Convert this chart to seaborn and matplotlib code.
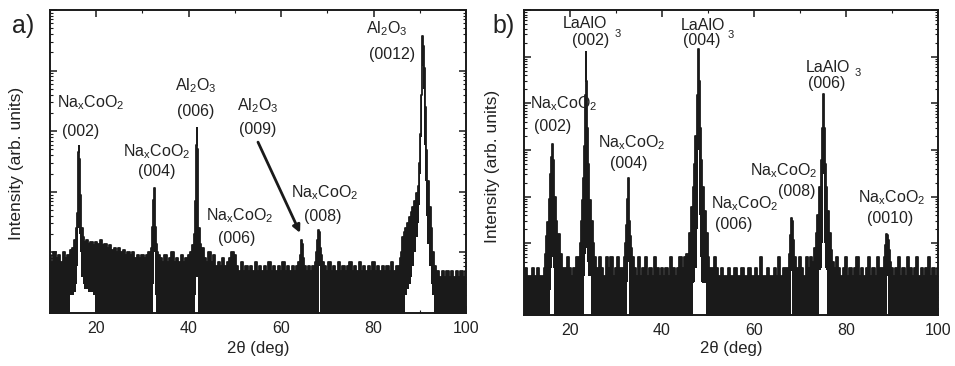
import matplotlib
matplotlib.use("Agg")
import matplotlib.pyplot as plt
from matplotlib.ticker import LogLocator, NullFormatter, FixedLocator
import numpy as np
import pandas as pd
import seaborn as sns

# ---------------- data ----------------
# panel a : NaxCoO2 on Al2O3   (2theta, upper envelope, lower envelope of the noisy trace)
a_tth = [10.0, 10.5, 11.0, 11.5, 12.0, 12.5, 13.0, 13.5, 14.0,
         14.5, 15.0, 15.4, 15.7, 15.9, 16.05, 16.2, 16.3, 16.4, 16.55, 16.7, 16.9, 17.2, 17.6, 18.0, 18.5, 19.0, 19.5,
         20.0, 20.5, 21.0, 21.5, 22.0, 22.5, 23.0, 23.5, 24.0, 24.5, 25.0, 25.5, 26.0, 26.5, 27.0, 27.5, 28.0, 28.5,
         29.0, 29.5, 30.0, 30.5, 31.0,
         31.5, 32.0, 32.2, 32.4, 32.55, 32.7, 32.85, 33.0, 33.2, 33.4,
         34.0, 34.5, 35.0, 35.5, 36.0, 36.5, 37.0, 37.5, 38.0, 38.5, 39.0, 39.5, 40.0, 40.5,
         41.0, 41.3, 41.5, 41.65, 41.75, 41.85, 42.0, 42.2, 42.5, 43.0,
         43.5, 44.0, 44.5, 45.0, 45.5, 46.0, 46.5, 47.0, 47.5, 48.0, 48.5, 49.0, 49.5, 50.0, 50.5, 51.0, 51.5,
         52.0, 52.5, 53.0, 53.5, 54.0, 54.5, 55.0, 55.5, 56.0, 56.5, 57.0, 57.5, 58.0, 58.5, 59.0, 59.5, 60.0,
         60.5, 61.0, 61.5, 62.0, 62.5, 63.0, 63.5,
         64.0, 64.3, 64.5, 64.7, 64.9, 65.2,
         65.5, 66.0, 66.5, 67.0, 67.5,
         67.7, 67.9, 68.1, 68.25, 68.4, 68.6, 68.8, 69.1,
         69.5, 70.0, 70.5, 71.0, 71.5, 72.0, 72.5, 73.0, 73.5, 74.0, 74.5, 75.0, 75.5, 76.0, 76.5, 77.0, 77.5,
         78.0, 78.5, 79.0, 79.5, 80.0, 80.5, 81.0, 81.5, 82.0, 82.5, 83.0, 83.5, 84.0, 84.5, 85.0, 85.5,
         85.8, 86.1, 86.4, 86.7, 87.0, 87.4, 87.8, 88.2, 88.6, 89.0, 89.4, 89.7, 90.0, 90.2, 90.35, 90.5, 90.62,
         90.75, 90.9, 91.0, 91.2, 91.5, 91.8, 92.2, 92.5, 92.9, 93.3, 93.7,
         94.0, 94.5, 95.0, 95.5, 96.0, 96.5, 97.0, 97.5, 98.0, 98.5, 99.0, 99.5, 100.0]
a_upper = [9, 7, 10, 8, 9, 7, 10, 8, 9,
           11, 12, 16, 25, 45, 130, 450, 560, 350, 90, 40, 25, 18, 15, 16, 14, 15, 13,
           15, 14, 16, 13, 14, 12, 13, 11, 12, 10, 12, 10, 11, 9, 10, 9, 10, 8,
           9, 8, 9, 8, 9,
           10, 12, 26, 73, 115, 73, 26, 14, 10, 9,
           8, 7, 9, 7, 8, 10, 7, 8, 7, 9, 7, 8, 9, 10,
           13, 20, 70, 600, 1150, 500, 90, 25, 14, 12,
           8, 7, 10, 7, 9, 6, 7, 6, 8, 6, 7, 8, 10, 9, 6, 5, 7,
           5, 6, 5, 6, 5, 7, 5, 6, 5, 6, 5, 7, 5, 6, 5, 6, 5,
           7, 5, 6, 5, 6, 5, 6,
           7, 9, 16, 14, 8, 6,
           5, 6, 5, 6, 7,
           10, 16, 23, 22, 18, 12, 9, 7,
           6, 5, 7, 5, 6, 5, 7, 5, 6, 5, 6, 7, 5, 6, 5, 7, 5,
           6, 5, 6, 5, 7, 5, 6, 5, 6, 5, 6, 5, 7, 5, 6, 6,
           8, 10, 18, 22, 25, 30, 38, 46, 56, 70, 95, 125, 300, 900, 4000, 15000, 37000,
           25000, 12000, 11000, 2500, 490, 150, 56, 25, 10, 6, 5,
           5, 4, 5, 4, 5, 4, 5, 4, 5, 4, 5, 4, 5]
a_lower = [0.5] * 9 + \
          [2, 2, 2.2, 3, 6, 12, 25, 60, 20, 10, 6, 4, 3, 2.5, 2.5, 2.2, 2.2, 2] + \
          [0.5] * 23 + \
          [0.5, 0.5, 0.5, 3, 10, 6, 2, 1, 0.5, 0.5] + \
          [0.5] * 14 + \
          [0.5, 0.5, 2, 4, 5, 4, 2, 0.5, 0.5, 0.5] + \
          [0.5] * 41 + \
          [0.5] * 6 + \
          [0.5] * 5 + \
          [0.5, 0.5, 0.5, 6, 0.5, 0.5, 0.5, 0.5] + \
          [0.5] * 33 + \
          [0.5, 0.5, 0.5, 0.5, 2, 2.5, 3, 4, 6, 10, 18, 30, 60, 200, 800, 4000, 12000,
           5000, 1500, 600, 150, 40, 14, 6, 3, 2, 0.5, 0.5] + \
          [0.5] * 13

# panel b : NaxCoO2 on LaAlO3
b_tth = [10.0, 10.5, 11.0, 11.5, 12.0, 12.5, 13.0, 13.5, 14.0,
         14.5, 14.7, 14.9, 15.3, 15.6, 15.9, 16.05, 16.2, 16.35, 16.5, 16.7, 17.0, 17.5, 18.0, 18.4,
         19.0, 19.5, 20.0, 20.5, 21.0, 21.5,
         22.0, 22.2, 22.5, 22.7, 22.9, 23.1, 23.3, 23.45, 23.6, 23.8, 24.0, 24.35, 24.7, 25.1, 25.5,
         26.0, 26.5, 27.0, 27.5, 28.0, 28.5, 29.0, 29.5, 30.0, 30.5, 31.0, 31.5,
         31.9, 32.1, 32.3, 32.5, 32.65, 32.8, 33.0, 33.2, 33.4, 33.7,
         34.0, 34.5, 35.0, 35.5, 36.0, 36.5, 37.0, 37.5, 38.0, 38.5, 39.0, 39.5, 40.0, 40.5, 41.0, 41.5,
         42.0, 42.5, 43.0, 43.5, 44.0, 44.5, 45.0, 45.5,
         45.7, 46.1, 46.5, 46.8, 47.1, 47.4, 47.65, 47.85, 48.05, 48.3, 48.6, 49.0, 49.3, 49.7, 50.1, 50.5,
         51.0, 51.5, 52.0, 52.5, 53.0, 53.5, 54.0, 54.5, 55.0, 55.5, 56.0, 56.5, 57.0, 57.5, 58.0, 58.5,
         59.0, 59.5, 60.0, 60.5, 61.0, 61.5, 62.0, 62.5, 63.0, 63.5, 64.0, 64.5, 65.0, 65.5, 66.0, 66.5, 67.0,
         67.5, 67.8, 68.0, 68.15, 68.35, 68.6, 68.9, 69.2,
         69.5, 70.0, 70.5, 71.0, 71.5, 72.0, 72.5,
         72.9, 73.3, 73.6, 73.9, 74.35, 74.6, 74.85, 75.05, 75.25, 75.5, 75.8, 76.1, 76.5, 76.9, 77.2,
         77.5, 78.0, 78.5, 79.0, 79.5, 80.0, 80.5, 81.0, 81.5, 82.0, 82.5, 83.0, 83.5, 84.0, 84.5, 85.0,
         85.5, 86.0, 86.5, 87.0, 87.5, 88.0,
         88.1, 88.4, 88.7, 88.9, 89.05, 89.2, 89.4, 89.7, 89.9,
         90.5, 91.0, 91.5, 92.0, 92.5, 93.0, 93.5, 94.0, 94.5, 95.0, 95.5, 96.0, 96.5, 97.0, 97.5, 98.0,
         98.5, 99.0, 99.5, 100.0]
b_upper = [2, 3, 2, 2, 3, 2, 3, 2, 2,
           3, 6, 14, 28, 90, 300, 700, 1340, 600, 200, 98, 30, 16, 6, 3,
           3, 5, 3, 2, 3, 5,
           5, 10, 30, 84, 250, 1200, 15000, 124000, 30000, 3000, 500, 84, 30, 10, 5,
           3, 5, 3, 2, 5, 3, 5, 2, 3, 5, 3, 3,
           5, 10, 25, 90, 250, 100, 30, 14, 8, 5,
           3, 2, 5, 2, 3, 5, 2, 3, 2, 5, 3, 2, 3, 2, 3, 2,
           5, 3, 2, 3, 5, 3, 5, 6,
           4, 17, 60, 160, 500, 2000, 15000, 145000, 30000, 3000, 600, 160, 50, 17, 5, 3,
           3, 5, 3, 2, 3, 2, 2, 3, 2, 2, 3, 2, 2, 3, 2, 2,
           3, 2, 2, 3, 2, 5, 2, 2, 3, 2, 2, 3, 2, 5, 2, 3, 3,
           3, 6, 15, 35, 30, 12, 5, 3,
           3, 5, 3, 2, 5, 3, 5,
           4, 8, 17, 40, 160, 600, 3000, 15800, 3000, 500, 160, 50, 17, 7, 4,
           3, 5, 3, 2, 3, 5, 2, 3, 2, 3, 5, 2, 3, 2, 3, 5,
           2, 3, 2, 5, 3, 3,
           3, 5, 9, 15.8, 15, 12, 7, 4, 3,
           2, 3, 5, 2, 3, 2, 5, 3, 2, 3, 5, 2, 3, 2, 3, 5,
           2, 3, 2, 3]
b_lower = [0.2] * 9 + \
          [0.2, 0.2, 0.2, 0.2, 0.2, 1, 3, 5, 3, 1, 0.2, 0.2, 0.2, 0.2, 0.2] + \
          [0.2] * 6 + \
          [0.2, 0.2, 0.2, 0.2, 0.2, 2, 6, 2000, 8, 4, 2, 2, 0.2, 0.2, 0.2] + \
          [0.2] * 12 + \
          [0.2, 0.2, 0.2, 1.5, 4, 1.5, 0.2, 0.2, 0.2, 0.2] + \
          [0.2] * 24 + \
          [0.2, 0.2, 0.2, 1.4, 1.5, 3, 20, 1000, 40, 5, 1.5, 1.4, 1.4, 0.2, 0.2, 0.2] + \
          [0.2] * 33 + \
          [0.2, 0.2, 0.2, 2.5, 0.2, 0.2, 0.2, 0.2] + \
          [0.2] * 7 + \
          [0.2, 0.2, 0.2, 0.2, 2.7, 3, 10, 300, 10, 3, 2.7, 0.2, 0.2, 0.2, 0.2] + \
          [0.2] * 22 + \
          [0.2, 0.2, 0.2, 0.2, 2, 0.2, 0.2, 0.2, 0.2] + \
          [0.2] * 20

x_ticks = [20, 40, 60, 80, 100]

# ---------------- figure ----------------
sns.set_theme(style="ticks")
plt.rcParams['font.family'] = ['Liberation Sans', 'DejaVu Sans']
plt.rcParams['mathtext.default'] = 'regular'

W, H = 955, 366
fig = plt.figure(figsize=(W / 100, H / 100), dpi=100)


def px_axes(l, t, r, b):
    return fig.add_axes([l / W, 1 - b / H, (r - l) / W, (b - t) / H])


ax_a = px_axes(50, 10, 466, 313)
ax_b = px_axes(524, 10, 938, 315)

for ax, tth, up, lo, ylim in [(ax_a, a_tth, a_upper, a_lower, (1, 1e5)),
                              (ax_b, b_tth, b_upper, b_lower, (0.29, 1e6))]:
    df = pd.DataFrame({"tth": tth, "upper": up, "lower": lo})
    ax.fill_between(df["tth"], df["lower"], df["upper"], step="mid", color="k", lw=0)
    sns.lineplot(data=df, x="tth", y="upper", ax=ax, color="k", lw=1.3,
                 drawstyle="steps-mid", estimator=None)
    ax.set_yscale("log")
    ax.set_xlim(10, 100)
    ax.set_ylim(*ylim)
    ax.set_xlabel("")
    ax.set_ylabel("")
    ax.xaxis.set_major_locator(FixedLocator(x_ticks))
    ax.xaxis.set_minor_locator(FixedLocator([10, 30, 50, 70, 90]))
    ax.yaxis.set_major_locator(LogLocator(base=10, numticks=20))
    ax.yaxis.set_minor_locator(LogLocator(base=10, subs=np.arange(2, 10), numticks=20))
    ax.yaxis.set_major_formatter(NullFormatter())
    ax.yaxis.set_minor_formatter(NullFormatter())
    ax.tick_params(which="both", direction="in", top=True, right=True, color="k",
                   labelsize=11.5, labelcolor="#222222")
    ax.tick_params(which="major", length=5, width=1.1, pad=6)
    ax.tick_params(which="minor", length=2.5, width=0.8)
    for s in ax.spines.values():
        s.set_linewidth(1.4)
        s.set_color("k")


def ftext(x, y, s, size=11.5, ha="center", va="baseline", **kw):
    fig.text(x / W, 1 - y / H, s, ha=ha, va=va, fontsize=size, color="#222222", **kw)


NA = "Na$_x$CoO$_2$"
AL = "Al$_2$O$_3$"

# panel a labels
ftext(12, 33, "a)", size=18, ha="left")
ftext(90.5, 107, NA); ftext(80.5, 136, "(002)")
ftext(157, 156, NA); ftext(157, 176, "(004)")
ftext(195.5, 90, AL); ftext(196, 116, "(006)")
ftext(258, 110, AL); ftext(258, 134, "(009)")
ftext(239.5, 220, NA); ftext(237, 243, "(006)")
ftext(324.5, 197, NA); ftext(323, 221, "(008)")
ftext(386.5, 33, AL); ftext(392, 59, "(0012)")
ax_a.annotate("", xy=(64.1, 21), xytext=(55.0, 660),
              arrowprops=dict(arrowstyle="-|>", lw=2, color="k", mutation_scale=11,
                              shrinkA=0, shrinkB=0))

# panel b labels
ftext(492, 33, "b)", size=18, ha="left")
ftext(584.5, 28, "LaAlO"); ftext(590.5, 45, "(002)"); ftext(615, 37, "3", size=8, ha="left")
ftext(702.5, 30, "LaAlO"); ftext(701.5, 45, "(004)"); ftext(728, 38, "3", size=8, ha="left")
ftext(828, 72, "LaAlO"); ftext(827, 88, "(006)"); ftext(855, 76, "3", size=8, ha="left")
ftext(564, 108, NA); ftext(553, 131, "(002)")
ftext(632, 147, NA); ftext(628.5, 168, "(004)")
ftext(783.5, 175, NA); ftext(796.5, 196, "(008)")
ftext(745, 208, NA); ftext(734, 229, "(006)")
ftext(891.5, 202, NA); ftext(890.5, 223, "(0010)")

# axis labels
ftext(17, 163, "Intensity (arb. units)", size=12.5, va="center", rotation=90)
ftext(492, 166, "Intensity (arb. units)", size=12.5, va="center", rotation=90)
ftext(258, 349, "2θ (deg)", size=12, va="center")
ftext(731, 349, "2θ (deg)", size=12, va="center")

fig.savefig("out.png", dpi=100)
